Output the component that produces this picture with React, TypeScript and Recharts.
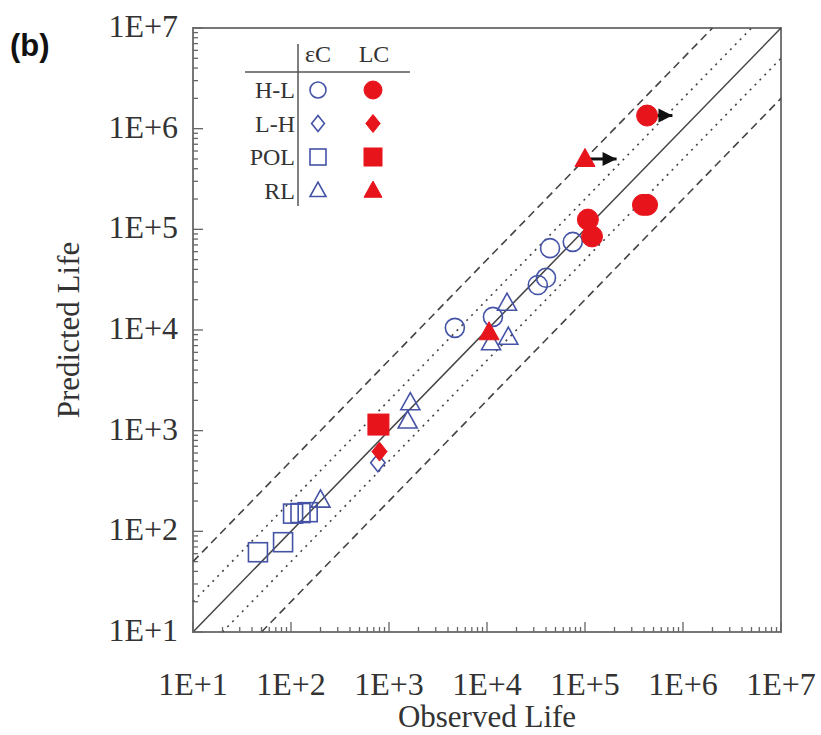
import { ScatterChart, Scatter, XAxis, YAxis, ReferenceLine, ReferenceArea } from 'recharts'

// axis decades and labels
const decades = [1e1, 1e2, 1e3, 1e4, 1e5, 1e6, 1e7]
const decadeLabels = ['1E+1', '1E+2', '1E+3', '1E+4', '1E+5', '1E+6', '1E+7']
const minorSteps = [2, 3, 4, 5, 6, 7, 8, 9]

// eC (hollow blue) series
const hlEC = [
  { x: 4700, y: 10500 },
  { x: 11500, y: 13500 },
  { x: 33000, y: 28000 },
  { x: 40000, y: 33000 },
  { x: 44000, y: 65000 },
  { x: 75000, y: 75000 },
]
const lhEC = [{ x: 770, y: 480 }]
const polEC = [
  { x: 46, y: 62 },
  { x: 83, y: 78 },
  { x: 105, y: 150 },
  { x: 125, y: 152 },
  { x: 148, y: 155 },
]
const rlEC = [
  { x: 200, y: 205 },
  { x: 1650, y: 1900 },
  { x: 1550, y: 1250 },
  { x: 16000, y: 18500 },
  { x: 16500, y: 8500 },
  { x: 11000, y: 7500 },
]

// LC (filled red) series
const hlLC = [
  { x: 430000, y: 1350000 },
  { x: 390000, y: 175000 },
  { x: 430000, y: 175000 },
  { x: 107000, y: 125000 },
  { x: 118000, y: 85000 },
]
const lhLC = [{ x: 800, y: 620 }]
const polLC = [{ x: 780, y: 1150 }]
const rlLC = [
  { x: 100000, y: 500000 },
  { x: 10500, y: 9500 },
]

// run-out arrows (start, head)
const arrowA = [
  { x: 430000, y: 1350000 },
  { x: 780000, y: 1350000, head: true },
]
const arrowB = [
  { x: 100000, y: 500000 },
  { x: 210000, y: 500000, head: true },
]

// scatter bands: factor of 2 (dotted) and 5 (dashed)
const bandFactors = [
  { factor: 2, dash: '2 5' },
  { factor: 5, dash: '8 5' },
]

const BLUE = '#4453a6'
const RED = '#e8141c'
const INK = '#333'
const SERIF = '"Liberation Serif", "Times New Roman", serif'

const axisTicks = decades.flatMap((d, i) =>
  i < decades.length - 1 ? [d, ...minorSteps.map((m) => d * m)] : [d]
)

function labelFor(v: number) {
  const i = decades.indexOf(v)
  return i >= 0 ? decadeLabels[i] : null
}

function XTick(props: any) {
  const { x, y, payload } = props
  const label = labelFor(payload.value)
  return (
    <g>
      <line x1={x} x2={x} y1={y} y2={y - (label ? 10 : 5)} stroke="#666" strokeWidth={1.3} />
      {label && (
        <text x={x} y={y + 52} textAnchor="middle" dominantBaseline="central" fontFamily={SERIF} fontSize={32} fill={INK}>
          {label}
        </text>
      )}
    </g>
  )
}

function YTick(props: any) {
  const { x, y, payload } = props
  const label = labelFor(payload.value)
  return (
    <g>
      <line x1={x} x2={x + (label ? 10 : 5)} y1={y} y2={y} stroke="#666" strokeWidth={1.3} />
      {label && (
        <text x={x - 15} y={y - 2} textAnchor="end" dominantBaseline="central" fontFamily={SERIF} fontSize={32} fill={INK}>
          {label}
        </text>
      )}
    </g>
  )
}

type Kind = 'circle' | 'diamond' | 'square' | 'triangle'

function glyph(kind: Kind, cx: number, cy: number, s: number, filled: boolean) {
  const color = filled ? RED : BLUE
  const paint = filled
    ? { fill: color, stroke: color, strokeWidth: 1 }
    : { fill: 'none', stroke: color, strokeWidth: 1.6 }
  const h = s / 2
  if (kind === 'circle') return <circle cx={cx} cy={cy} r={h} {...paint} />
  if (kind === 'square') return <rect x={cx - h} y={cy - h} width={s} height={s} {...paint} />
  if (kind === 'diamond')
    return <polygon points={`${cx},${cy - h} ${cx + h * 0.8},${cy} ${cx},${cy + h} ${cx - h * 0.8},${cy}`} {...paint} />
  return <polygon points={`${cx},${cy - h * 1.05} ${cx + h},${cy + h * 0.75} ${cx - h},${cy + h * 0.75}`} {...paint} />
}

const marker = (kind: Kind, size: number, filled: boolean) => (p: any) =>
  glyph(kind, p.cx, p.cy, size, filled)

const arrowHead = (p: any) =>
  p.payload && p.payload.head ? (
    <polygon points={`${p.cx},${p.cy} ${p.cx - 14},${p.cy - 7} ${p.cx - 14},${p.cy + 7}`} fill="#111" />
  ) : (
    <g />
  )

const legendRows = [
  { name: 'H-L', kind: 'circle' as Kind },
  { name: 'L-H', kind: 'diamond' as Kind },
  { name: 'POL', kind: 'square' as Kind },
  { name: 'RL', kind: 'triangle' as Kind },
]

function LegendTable() {
  const txt = { fontFamily: SERIF, fontSize: 24, fill: INK, dominantBaseline: 'central' as const }
  return (
    <g>
      <line x1={298} x2={298} y1={44} y2={206} stroke="#555" strokeWidth={1.5} />
      <line x1={245} x2={410} y1={72} y2={72} stroke="#555" strokeWidth={1.5} />
      <text x={318} y={54} textAnchor="middle" {...txt}>εC</text>
      <text x={374} y={54} textAnchor="middle" {...txt}>LC</text>
      {legendRows.map((r, i) => {
        const cy = 90 + i * 33.5
        return (
          <g key={r.name}>
            <text x={295} y={cy} textAnchor="end" {...txt}>{r.name}</text>
            {glyph(r.kind, 318, cy, 16, false)}
            {glyph(r.kind, 373, cy, 18, true)}
          </g>
        )
      })}
      <text x={10} y={45} fontFamily='"Liberation Sans", Arial, sans-serif' fontWeight="bold" fontSize={31} fill="#111" dominantBaseline="central">
        (b)
      </text>
    </g>
  )
}

export default function App() {
  return (
    <div style={{ position: 'absolute', left: 0, top: 0, width: 821, height: 735, background: '#fff' }}>
      <ScatterChart width={821} height={735} margin={{ top: 28, right: 40, bottom: 0, left: 0 }}>
        <XAxis
          dataKey="x"
          type="number"
          scale="log"
          domain={[1e1, 1e7]}
          ticks={axisTicks}
          interval={0}
          tick={XTick}
          tickSize={0}
          tickMargin={0}
          tickLine={false}
          axisLine={false}
          height={103}
          label={{
            content: (lp: any) => (
              <text x={lp.viewBox.x + lp.viewBox.width / 2} y={lp.viewBox.y + 84} textAnchor="middle" dominantBaseline="central" fontFamily={SERIF} fontSize={31} fill={INK}>
                Observed Life
              </text>
            ),
          }}
        />
        <YAxis
          dataKey="y"
          type="number"
          scale="log"
          domain={[1e1, 1e7]}
          ticks={axisTicks}
          interval={0}
          tick={YTick}
          tickSize={0}
          tickMargin={0}
          tickLine={false}
          axisLine={false}
          width={193}
          label={{
            content: (lp: any) => {
              const cx = lp.viewBox.x + 68
              const cy = lp.viewBox.y + lp.viewBox.height / 2
              return (
                <text x={cx} y={cy} transform={`rotate(-90 ${cx} ${cy})`} textAnchor="middle" dominantBaseline="central" fontFamily={SERIF} fontSize={31} fill={INK}>
                  Predicted Life
                </text>
              )
            },
          }}
        />
        <ReferenceArea x1={1e1} x2={1e7} y1={1e1} y2={1e7} fill="none" stroke="#777" strokeWidth={2} />
        <ReferenceLine segment={[{ x: 1e1, y: 1e1 }, { x: 1e7, y: 1e7 }]} stroke="#444" strokeWidth={1.5} />
        {bandFactors.map((b) => [
          <ReferenceLine
            key={`u${b.factor}`}
            segment={[{ x: 1e1, y: 1e1 * b.factor }, { x: 1e7 / b.factor, y: 1e7 }]}
            stroke="#444"
            strokeWidth={1.6}
            strokeDasharray={b.dash}
          />,
          <ReferenceLine
            key={`l${b.factor}`}
            segment={[{ x: 1e1 * b.factor, y: 1e1 }, { x: 1e7, y: 1e7 / b.factor }]}
            stroke="#444"
            strokeWidth={1.6}
            strokeDasharray={b.dash}
          />,
        ])}
        <Scatter data={arrowA} line={{ stroke: '#111', strokeWidth: 3 }} shape={arrowHead} isAnimationActive={false} />
        <Scatter data={arrowB} line={{ stroke: '#111', strokeWidth: 3 }} shape={arrowHead} isAnimationActive={false} />
        <Scatter name="H-L eC" data={hlEC} shape={marker('circle', 19, false)} isAnimationActive={false} />
        <Scatter name="L-H eC" data={lhEC} shape={marker('diamond', 18, false)} isAnimationActive={false} />
        <Scatter name="POL eC" data={polEC} shape={marker('square', 19, false)} isAnimationActive={false} />
        <Scatter name="RL eC" data={rlEC} shape={marker('triangle', 19, false)} isAnimationActive={false} />
        <Scatter name="H-L LC" data={hlLC} shape={marker('circle', 21, true)} isAnimationActive={false} />
        <Scatter name="L-H LC" data={lhLC} shape={marker('diamond', 19, true)} isAnimationActive={false} />
        <Scatter name="POL LC" data={polLC} shape={marker('square', 21, true)} isAnimationActive={false} />
        <Scatter name="RL LC" data={rlLC} shape={marker('triangle', 20, true)} isAnimationActive={false} />
        <LegendTable />
      </ScatterChart>
    </div>
  )
}
